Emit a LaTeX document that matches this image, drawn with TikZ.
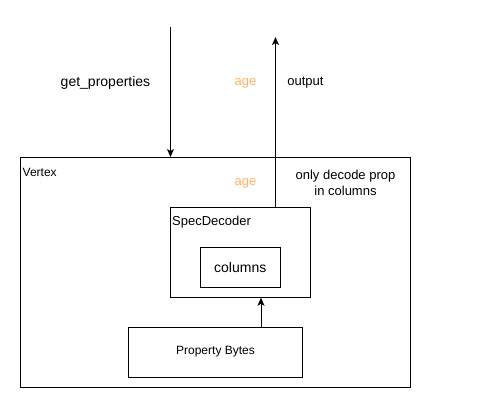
\documentclass[tikz,border=0pt]{standalone}
\usepackage{fontspec}
\setmainfont{Liberation Sans}
\usetikzlibrary{arrows.meta}
\definecolor{ageorange}{RGB}{255,179,102}
\begin{document}
\begin{tikzpicture}[x=1pt,y=-1pt,
  box/.style={draw=black,line width=1pt,inner sep=0pt},
  arr/.style={draw=black,line width=1pt,-{Stealth[length=8pt,width=7pt,inset=2pt]}},
  lbl/.style={inner sep=0pt,align=center},
  f12/.style={font=\fontsize{12}{15}\selectfont},
  f13/.style={font=\fontsize{13}{16}\selectfont},
  f14/.style={font=\fontsize{14}{16}\selectfont}]
\useasboundingbox (0,0) rectangle (491,408);
% boxes
\node[box,minimum width=390pt,minimum height=230pt] (vertex) at (215.5,272.5) {};
\node[box,minimum width=140pt,minimum height=90pt] (spec) at (240.5,252.25) {};
\node[box,minimum width=80pt,minimum height=40pt,f14] (cols) at (240.25,267.5) {columns};
\node[box,minimum width=174pt,minimum height=50pt,f12] (pb) at (215.5,352) {Property Bytes};
% connectors
\coordinate (gp) at (170.5,27);
\coordinate (out) at (275.5,37);
\coordinate (pbx) at (261,0);
\draw[arr] (gp) -- (gp |- vertex.north);
\draw[arr] (spec.north -| out) -- (out);
\draw[arr] (pb.north -| pbx) -- (spec.south -| pbx);
% labels
\node[lbl,f14] (lgp) at (105.5,82.5) {get\_properties};
\node[lbl,f13,text=ageorange] (age1) at (245.5,83) {age};
\node[lbl,f13] (lout) at (305.5,83) {output};
\node[lbl,f12,anchor=west] (lvertex) at (22.5,172) {Vertex};
\node[lbl,f13,text=ageorange] (age2) at (245.5,183.5) {age};
\node[lbl,f13] (lonly) at (345.5,183) {only decode prop\\in columns};
\node[lbl,f13,anchor=west] (lspec) at (172,222) {SpecDecoder};
\end{tikzpicture}
\end{document}
